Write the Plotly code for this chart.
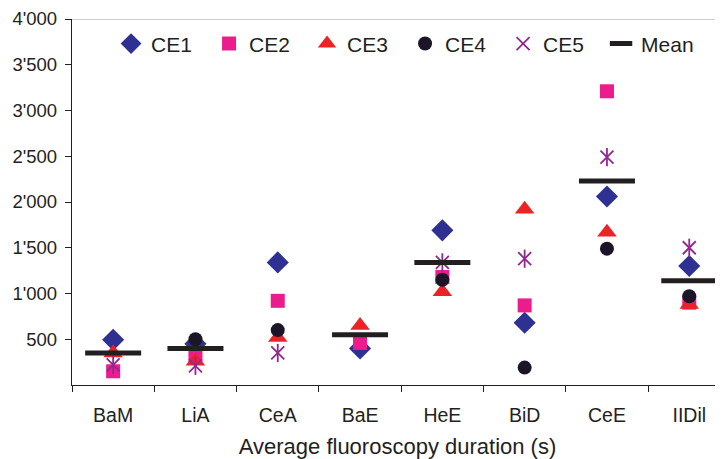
import plotly.graph_objects as go

categories = ["BaM", "LiA", "CeA", "BaE", "HeE", "BiD", "CeE", "IIDil"]
ce1 = [495, 450, 1340, 400, 1690, 680, 2060, 1300]
ce2 = [150, 300, 920, 460, 1180, 870, 3210, 900]
ce3 = [350, 260, 520, 650, 1020, 1920, 1670, 880]
ce4 = [None, 500, 600, None, 1150, 190, 1490, 970]
ce5 = [220, 210, 350, None, 1340, 1380, 2490, 1500]
mean = [350, 400, None, 550, 1340, None, 2230, 1140]
y_ticks = [500, 1000, 1500, 2000, 2500, 3000, 3500, 4000]
y_tick_labels = ["500", "1'000", "1'500", "2'000", "2'500", "3'000", "3'500", "4'000"]

INK = "#231f20"
PURPLE = "#92278f"
fig = go.Figure()
series = [
    ("CE1", ce1, dict(symbol="diamond", size=17, color="#2e3192")),
    ("CE2", ce2, dict(symbol="square", size=14, color="#ec1c8c")),
    ("CE3", ce3, dict(symbol="triangle-up", size=17, color="#ed2224")),
    ("CE4", ce4, dict(symbol="circle", size=14, color="#1c1528")),
    ("CE5", ce5, dict(symbol="x-thin-open", size=13, color=PURPLE,
                      line=dict(width=1.8, color=PURPLE))),
]
for name, vals, mk in series:
    fig.add_trace(go.Scatter(x=categories, y=vals, mode="markers", name=name,
                             marker=mk, cliponaxis=False))
# vertical stroke of the CE5 star marker
fig.add_trace(go.Scatter(x=categories, y=ce5, mode="markers", showlegend=False,
                         marker=dict(symbol="line-ns-open", size=13, color=PURPLE,
                                     line=dict(width=1.8, color=PURPLE))))
fig.add_trace(go.Scatter(x=categories, y=mean, mode="markers", name="Mean",
                         marker=dict(symbol="line-ew-open", size=40, color=INK,
                                     line=dict(width=5, color=INK))))

fig.add_shape(type="line", xref="paper", yref="y", x0=0, x1=1, y0=4000, y1=4000,
              line=dict(color="#9a9a9a", width=1.2))

fig.update_layout(
    width=715, height=451,
    margin=dict(l=64, r=0, t=11, b=74),
    paper_bgcolor="white", plot_bgcolor="white",
    font=dict(family="Liberation Sans, Arial, sans-serif", size=19, color=INK),
    showlegend=True,
    legend=dict(orientation="h", x=0.06, y=0.988, xanchor="left", yanchor="top",
                font=dict(size=21), itemwidth=30, entrywidth=53,
                bgcolor="rgba(0,0,0,0)"),
    xaxis=dict(type="category", range=[-0.5, 7.41], showline=True, linecolor=INK,
               linewidth=1.3, ticks="outside", ticklen=6, tickcolor=INK,
               tickson="boundaries", showgrid=False, ticklabelstandoff=12,
               automargin=False, tickfont=dict(size=19.5),
               title=dict(text="Average fluoroscopy duration (s)",
                          font=dict(size=22), standoff=16)),
    yaxis=dict(range=[0, 4000], showline=True, linecolor=INK, linewidth=1.3,
               ticks="outside", ticklen=6, tickcolor=INK, showgrid=False,
               zeroline=False, tickvals=y_ticks, ticktext=y_tick_labels,
               ticklabelstandoff=4, automargin=False, tickfont=dict(size=18.5)),
)
fig.write_html("out.html")
